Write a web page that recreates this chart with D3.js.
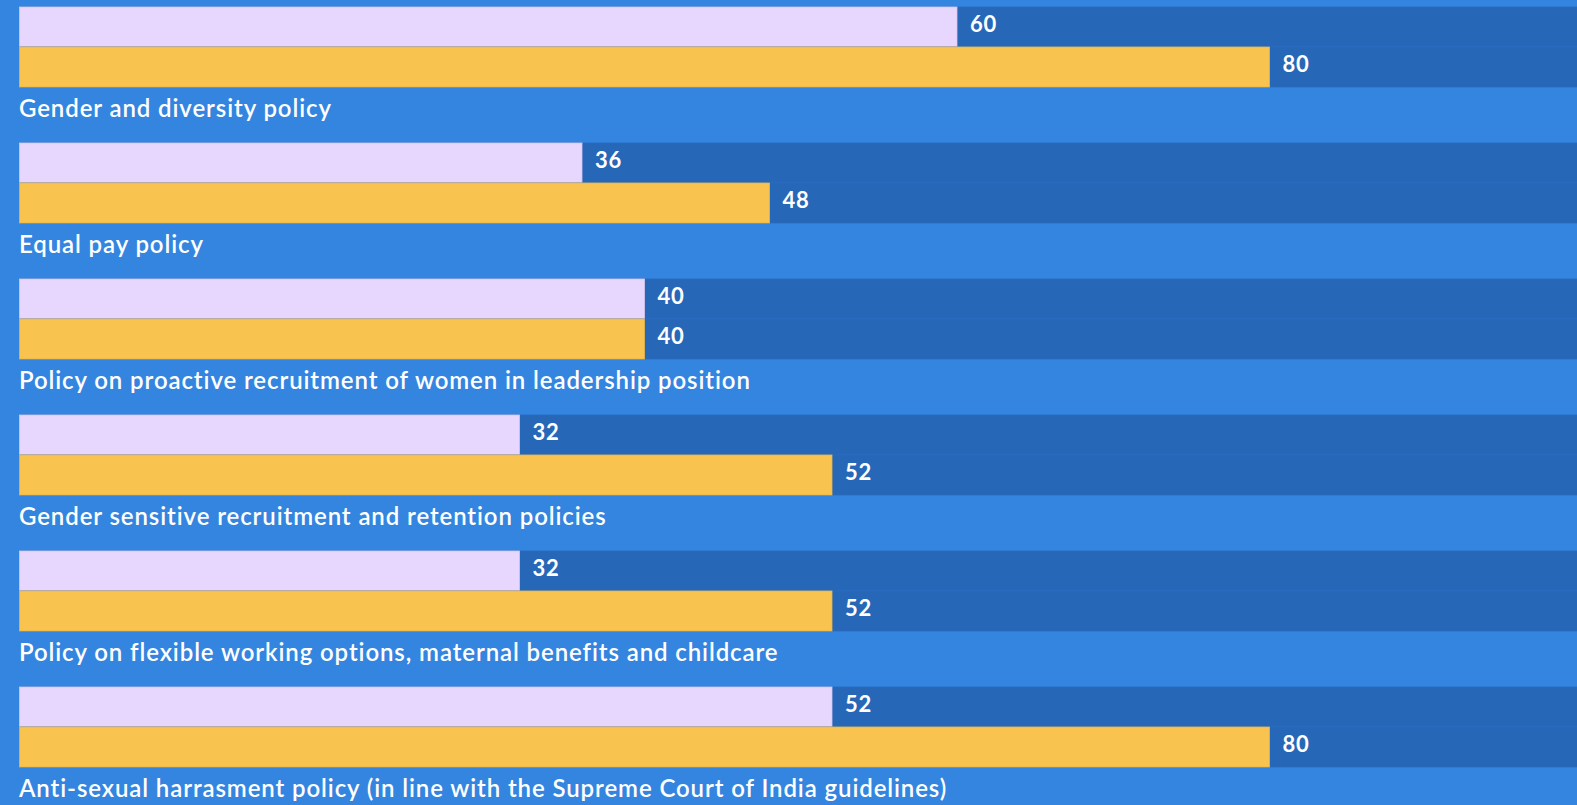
<!DOCTYPE html>
<html><head><meta charset="utf-8">
<script src="https://cdn.jsdelivr.net/npm/d3@7"></script>
<style>
html,body{margin:0;padding:0;background:#3385E0;overflow:hidden}
svg{display:block}
</style></head>
<body><svg id="c" width="1577" height="805"></svg>
<script>
const categories = [
  "Gender and diversity policy",
  "Equal pay policy",
  "Policy on proactive recruitment of women in leadership position",
  "Gender sensitive recruitment and retention policies",
  "Policy on flexible working options, maternal benefits and childcare",
  "Anti-sexual harrasment policy (in line with the Supreme Court of India guidelines)"
];
const seriesA = [60, 36, 40, 32, 32, 52];
const seriesB = [80, 48, 40, 52, 52, 80];
const series = [{key:"a", values:seriesA, color:"#E7D6FD"}, {key:"b", values:seriesB, color:"#F8C44F"}];

const svg = d3.select("#c");
const x = d3.scaleLinear().domain([0, 100]).range([19.5, 1582]);
const yGroup = d3.scaleBand().domain(categories).range([7, 7 + 136*6]);
const ySub = d3.scaleBand().domain(series.map(s=>s.key)).range([0, 80]);

const g = svg.selectAll("g.grp").data(categories).join("g")
  .attr("class","grp")
  .attr("transform", d => `translate(0,${yGroup(d)})`);

series.forEach((s) => {
  g.append("rect")
    .attr("x", x(0)).attr("y", ySub(s.key))
    .attr("width", x(100) - x(0)).attr("height", ySub.bandwidth())
    .attr("fill", "#2767B8")
    .attr("stroke", "#2B6DC0").attr("stroke-width", 0.8);
  g.append("rect")
    .attr("x", x(0)).attr("y", ySub(s.key))
    .attr("width", (d,i) => x(s.values[i]) - x(0)).attr("height", ySub.bandwidth())
    .attr("fill", s.color)
    .attr("stroke", s.key === "a" ? "#D9C6EE" : "#E8B548").attr("stroke-width", 0.8);
  g.append("text")
    .attr("x", (d,i) => x(s.values[i]) + 13)
    .attr("y", ySub(s.key) + ySub.bandwidth()/2 - 3)
    .attr("dy", "0.36em")
    .attr("fill", "#fff")
    .style("font-family", "Lato, 'Open Sans', sans-serif")
    .style("font-size", "22px")
    .style("font-weight", "bold")
    .style("letter-spacing", "0.8px")
    .text((d,i) => s.values[i]);
});

g.append("text")
  .attr("x", 19)
  .attr("y", 110)
  .attr("fill", "#fff")
  .style("font-family", "Lato, 'Open Sans', sans-serif")
  .style("font-size", "24px")
  .style("font-weight", "600")
  .style("letter-spacing", "0.9px")
  .text(d => d);
</script></body></html>
